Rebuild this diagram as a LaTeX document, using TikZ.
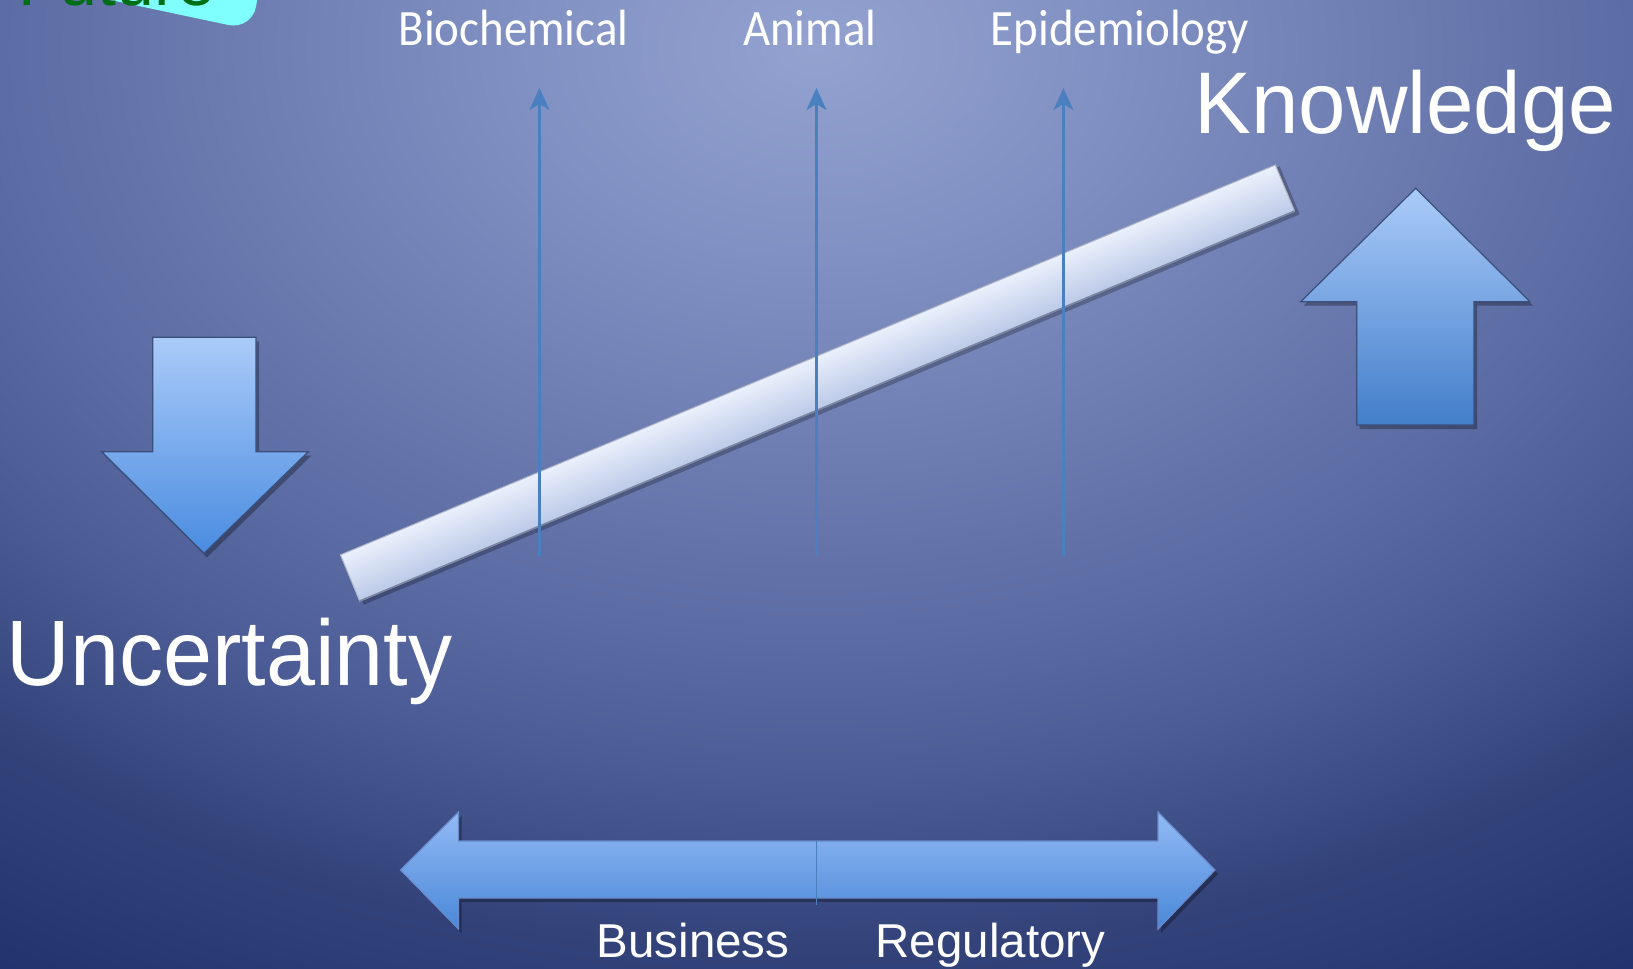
\documentclass[tikz,border=0pt]{standalone}
\usepackage{fontspec}
\setmainfont{Liberation Sans}
\newfontfamily\labelfont{Carlito}
\usetikzlibrary{arrows.meta}
\definecolor{bgA}{HTML}{93A2CF}
\definecolor{bgB}{HTML}{8090C2}
\definecolor{bgC}{HTML}{6B7BB0}
\definecolor{bgD}{HTML}{5C6CA4}
\definecolor{bgE}{HTML}{4C5C96}
\definecolor{bgF}{HTML}{33437A}
\definecolor{bgG}{HTML}{24346F}
\definecolor{bgH}{HTML}{152868}
\definecolor{futurecyan}{HTML}{80FFFF}
\definecolor{futuregreen}{HTML}{006E14}
\definecolor{barTop}{HTML}{EAF0FC}
\definecolor{barMid}{HTML}{D0DCF5}
\definecolor{barBot}{HTML}{BCCAE8}
\definecolor{barEdge}{HTML}{5A6888}
\definecolor{arrTop}{HTML}{AACBF9}
\definecolor{arrBot}{HTML}{4A8CE0}
\definecolor{arrEdge}{HTML}{3A4F7A}
\definecolor{dblTop}{HTML}{92BAF5}
\definecolor{dblBot}{HTML}{4A88D8}
\definecolor{dblEdge}{HTML}{6A8ACC}
\definecolor{thinBlue}{HTML}{4A80C0}
\pgfdeclareradialshading{bgshade}{\pgfpoint{0bp}{0bp}}{color(0bp)=(bgA); color(15bp)=(bgB); color(30.25bp)=(bgC); color(40.8bp)=(bgD); color(50.8bp)=(bgE); color(63bp)=(bgF); color(75bp)=(bgG); color(90bp)=(bgH)}
\begin{document}
\begin{tikzpicture}[x=0.5pt,y=-0.5pt,
  toplabel/.style={text=white, inner sep=0pt, anchor=base, font=\labelfont\fontsize{25.5pt}{30pt}\selectfont},
  botlabel/.style={text=white, inner sep=0pt, anchor=base, font=\fontsize{23.75pt}{28pt}\selectfont},
  biglabel/.style={text=white, inner sep=0pt, anchor=base west},
  thinarrow/.style={draw=thinBlue, line width=1.6pt, -{Stealth[length=11pt,width=10pt,inset=3pt]}},
  bigarrow/.style={draw=arrEdge, line width=0.6pt, top color=arrTop, bottom color=arrBot},
  dblarrow/.style={draw=dblEdge, line width=0.6pt, top color=dblTop, bottom color=dblBot},
  dropshadow/.style={fill=black, opacity=0.3}
]
\useasboundingbox (0,0) rectangle (1633,969);
\clip (0,0) rectangle (1633,969);
\node[inner sep=0pt, anchor=center] (bg) at (816,48) {\scalebox{9.963}[7.117]{\pgfuseshading{bgshade}}};

% Future callout (mostly cut off)
\fill[futurecyan, rounded corners=12pt] (40,-15) -- (252,30) -- (264,-40) -- (40,-80) -- cycle;
\node[anchor=base west, inner sep=0pt, text=futuregreen, font=\fontsize{34pt}{40pt}\selectfont] (future) at (18,5) {Future};

% diagonal bar
\begin{scope}[transform canvas={shift={(817.5,383)}, rotate=22.64}]
  \fill[dropshadow, opacity=0.25] (-504,-22) rectangle (510,30);
  \shade[top color=barTop, middle color=barMid, bottom color=barBot, draw=barEdge!50, line width=0.5pt] (-506.5,-25) rectangle (506.5,25);
  \draw[barEdge!80, line width=0.8pt] (-506.5,25) -- (506.5,25);
\end{scope}

% vertical thin arrows
\coordinate (s1) at (539.5,556);
\coordinate (e1) at (539.5,88);
\coordinate (s2) at (816.5,556);
\coordinate (e2) at (816.5,88);
\coordinate (s3) at (1063.4,556);
\coordinate (e3) at (1063.4,88);
\draw[thinarrow] (s1) -- (e1);
\draw[thinarrow] (s2) -- (e2);
\draw[thinarrow] (s3) -- (e3);

% top labels
\node[toplabel] (bio) at (513.5,46) {\scalebox{0.92}[1]{Biochemical}};
\node[toplabel] (ani) at (809.8,46) {\scalebox{0.92}[1]{Animal}};
\node[toplabel] (epi) at (1120,46) {\scalebox{0.92}[1]{Epidemiology}};

% down arrow (left)
\begin{scope}[shift={(3,4)}]
\fill[dropshadow] (152.7,337.3) -- (256,337.3) -- (256,451.7) -- (308.3,451.7) -- (204,553.3) -- (101.7,451.7) -- (152.7,451.7) -- cycle;
\end{scope}
\path[bigarrow] (152.7,337.3) -- (256,337.3) -- (256,451.7) -- (308.3,451.7) -- (204,553.3) -- (101.7,451.7) -- (152.7,451.7) -- cycle;

% up arrow (right)
\begin{scope}[shift={(3,4)}]
\fill[dropshadow] (1415.7,188.3) -- (1530,301.7) -- (1474,301.7) -- (1474,425) -- (1356.7,425) -- (1356.7,301.7) -- (1300.7,301.7) -- cycle;
\end{scope}
\path[bigarrow, bottom color=arrBot!90!black] (1415.7,188.3) -- (1530,301.7) -- (1474,301.7) -- (1474,425) -- (1356.7,425) -- (1356.7,301.7) -- (1300.7,301.7) -- cycle;

% double arrow (bottom)
\begin{scope}[shift={(3,4)}]
\fill[dropshadow] (400.5,870) -- (458.5,812) -- (458.5,841) -- (1158,841) -- (1158,812) -- (1215,870) -- (1158,929) -- (1158,898) -- (458.5,898) -- (458.5,929) -- cycle;
\end{scope}
\path[dblarrow] (400.5,870) -- (458.5,812) -- (458.5,841) -- (1158,841) -- (1158,812) -- (1215,870) -- (1158,929) -- (1158,898) -- (458.5,898) -- (458.5,929) -- cycle;
\coordinate (d1) at (816.5,841);
\coordinate (d2) at (816.5,905);
\draw[thinBlue, line width=0.8pt] (d1) -- (d2);

% big labels
\node[biglabel] (know) at (1194,133) {\fontsize{43.75pt}{50pt}\selectfont\scalebox{0.974}[1]{Knowledge}};
\node[biglabel] (unc) at (6,685) {\fontsize{46.5pt}{52pt}\selectfont\scalebox{0.948}[1]{Uncertainty}};

% bottom labels
\node[botlabel] (bus) at (693,957) {Business};
\node[botlabel] (reg) at (990.5,957) {Regulatory};
\end{tikzpicture}
\end{document}
